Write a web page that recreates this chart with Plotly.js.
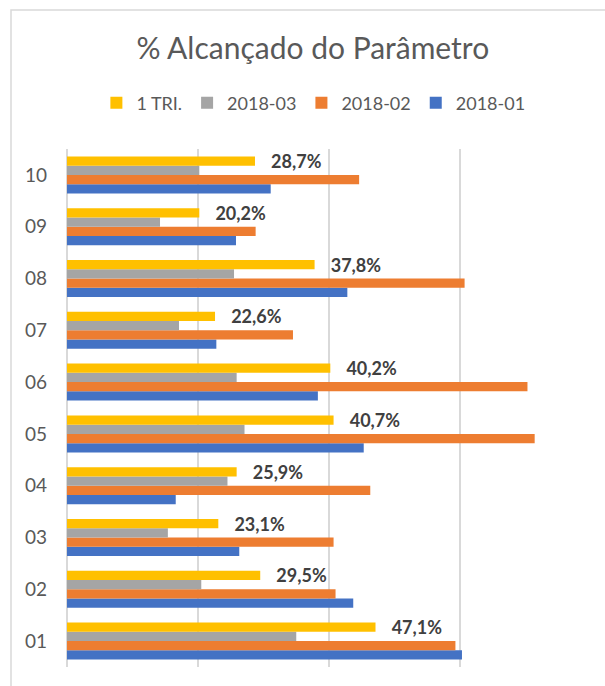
<!DOCTYPE html>
<html>
<head>
<meta charset="utf-8">
<script src="https://cdn.plot.ly/plotly-3.0.1.min.js"></script>
<style>html,body{margin:0;padding:0;background:#fff;}#chart{width:605px;height:686px;}</style>
</head>
<body>
<div id="chart"></div>
<script>
const categories = ['01','02','03','04','05','06','07','08','09','10'];
const seriesNames = ['2018-01','2018-02','2018-03','1 TRI.'];
const s2018_01 = [0.603, 0.437, 0.263, 0.166, 0.453, 0.383, 0.228, 0.428, 0.258, 0.311];
const s2018_02 = [0.593, 0.410, 0.407, 0.463, 0.714, 0.703, 0.345, 0.607, 0.288, 0.446];
const s2018_03 = [0.350, 0.205, 0.154, 0.245, 0.271, 0.259, 0.171, 0.255, 0.142, 0.202];
const tri1     = [0.471, 0.295, 0.231, 0.259, 0.407, 0.402, 0.226, 0.378, 0.202, 0.287];
const colors = ['#4472C4','#ED7D31','#A5A5A5','#FFC000'];
const allValues = [s2018_01, s2018_02, s2018_03, tri1];

const FONT = 'Lato, "Open Sans", sans-serif';

const traces = allValues.map((vals, i) => {
  const t = {
    type: 'bar',
    orientation: 'h',
    name: seriesNames[i],
    y: categories,
    x: vals,
    marker: {color: colors[i]},
    hoverinfo: 'skip'
  };
  if (i === 3) {
    t.texttemplate = '\u00a0\u00a0\u00a0%{x:.1%}';
    t.textposition = 'outside';
    t.constraintext = 'none';
    t.cliponaxis = false;
    t.textfont = {family: FONT, size: 18, color: '#404040', weight: 'bold'};
  }
  return t;
});

const layout = {
  width: 605,
  height: 686,
  separators: ',.',
  paper_bgcolor: '#ffffff',
  plot_bgcolor: '#ffffff',
  font: {family: FONT, color: '#595959', size: 18},
  margin: {l: 67, r: 14, t: 149, b: 19, pad: 0},
  barmode: 'group',
  bargap: 0.285,
  bargroupgap: 0,
  title: {
    text: '% Alcançado do Parâmetro',
    font: {family: FONT, size: 30, color: '#595959'},
    xref: 'container', yref: 'container',
    x: 0.517, y: 0.930, xanchor: 'center', yanchor: 'middle'
  },
  showlegend: true,
  legend: {
    orientation: 'h',
    traceorder: 'reversed',
    xref: 'container', yref: 'container',
    x: 0.518, y: 1 - 103/686, xanchor: 'center', yanchor: 'middle',
    font: {family: FONT, size: 18, color: '#595959'},
    itemclick: false, itemdoubleclick: false
  },
  xaxis: {
    range: [0, 0.8],
    dtick: 0.2,
    tick0: 0,
    showticklabels: false,
    ticks: '',
    showgrid: true,
    gridcolor: '#d9d9d9',
    gridwidth: 1.3,
    zeroline: true,
    zerolinecolor: '#d9d9d9',
    zerolinewidth: 1.3,
    showline: false,
    fixedrange: true
  },
  yaxis: {
    type: 'category',
    categoryorder: 'array',
    categoryarray: categories,
    ticks: '',
    showgrid: false,
    zeroline: false,
    showline: false,
    ticklabelstandoff: 19,
    tickfont: {family: FONT, size: 19, color: '#595959'},
    fixedrange: true
  },
  shapes: [{
    type: 'rect',
    xref: 'paper', yref: 'paper',
    x0: (11 - 67) / 524, x1: (620 - 67) / 524,
    y0: (667 - 700) / 518, y1: (667 - 10) / 518,
    line: {color: '#d9d9d9', width: 1.5},
    fillcolor: 'rgba(0,0,0,0)',
    layer: 'below'
  }]
};

Plotly.newPlot('chart', traces, layout, {displayModeBar: false, staticPlot: true});
</script>
</body>
</html>
